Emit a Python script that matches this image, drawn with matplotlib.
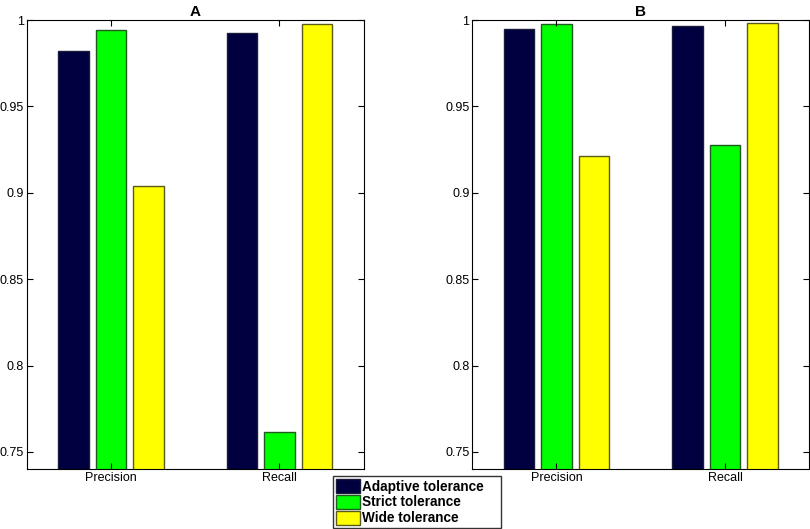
import matplotlib
matplotlib.use("Agg")
import matplotlib.pyplot as plt
import numpy as np

plt.rcParams['font.family'] = ['Liberation Sans Narrow', 'Liberation Sans', 'DejaVu Sans']

categories = ["Precision", "Recall"]
series = ["Adaptive tolerance", "Strict tolerance", "Wide tolerance"]
colors = ["#000040", "#00ff00", "#ffff00"]
edges = ["#1a1a3a", "#1f5a1f", "#5a5a1a"]

panel_a = [[0.9823, 0.9923],   # adaptive
           [0.9942, 0.7618],   # strict
           [0.9038, 0.9977]]   # wide
panel_b = [[0.9946, 0.9965],
           [0.9977, 0.9278],
           [0.9216, 0.9985]]

fig = plt.figure(figsize=(8.1, 5.29), dpi=100)
ax_a = fig.add_axes([0.033, 0.113, 0.416, 0.849])
ax_b = fig.add_axes([0.583, 0.113, 0.416, 0.849])

x = np.arange(1, len(categories) + 1)
offsets = [-0.223, 0, 0.223]
width = 0.18

handles = []
for ax, data, title in [(ax_a, panel_a, "A"), (ax_b, panel_b, "B")]:
    for i, vals in enumerate(data):
        h = ax.bar(x + offsets[i], vals, width, color=colors[i], edgecolor=edges[i],
                   linewidth=1, label=series[i])
        if ax is ax_a:
            handles.append(h)
    ax.set_xlim(0.5, 2.5)
    ax.set_ylim(0.74, 1.0)
    ax.set_yticks([0.75, 0.8, 0.85, 0.9, 0.95, 1.0])
    ax.set_yticklabels(["0.75", "0.8", "0.85", "0.9", "0.95", "1"])
    ax.set_xticks(x)
    ax.set_xticklabels(categories)
    ax.tick_params(direction="in", top=True, right=True, labelsize=9, length=4, pad=2)
    ax.set_title(title, fontweight="bold", fontsize=11, pad=3,
                 family=['Liberation Sans', 'DejaVu Sans'])

# legend box spans roughly x 333-501 px, y 474-528 px
fig.legend(handles=handles, labels=series, loc="lower left", mode="expand",
           bbox_to_anchor=(333 / 810, 1 / 529, 168 / 810, 54 / 529),
           bbox_transform=fig.transFigure,
           prop={"weight": "bold", "size": 9.8}, frameon=True, fancybox=False,
           edgecolor="black", borderpad=0.2, handlelength=1.75, handleheight=1.25,
           handletextpad=0.2, labelspacing=0.08, borderaxespad=0.0)

fig.savefig("out.png", dpi=100)
